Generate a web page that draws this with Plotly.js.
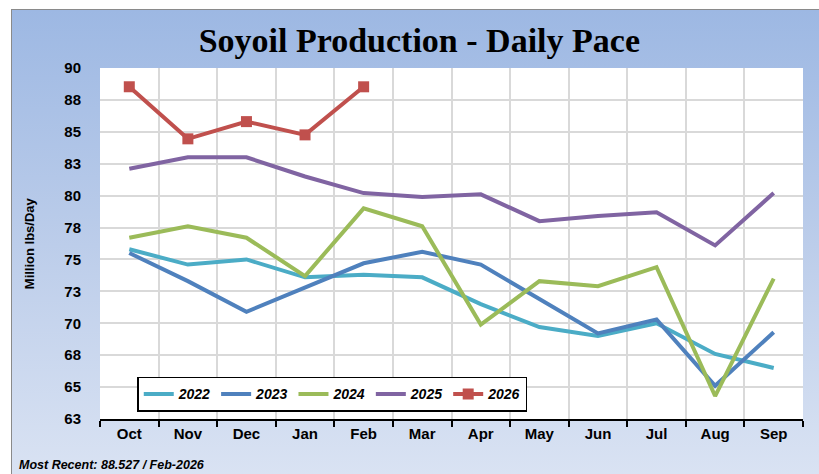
<!DOCTYPE html>
<html>
<head>
<meta charset="utf-8">
<script src="https://cdn.plot.ly/plotly-3.0.1.min.js"></script>
<style>
  html, body { margin: 0; padding: 0; background: #ffffff; }
  #wrap { position: relative; width: 819px; height: 474px; overflow: hidden; }
  #bg { position: absolute; left: 11px; top: 9px; width: 820px; height: 470px;
        border-left: 1px solid #8a8a8a; border-top: 1px solid #8a8a8a;
        background: linear-gradient(to bottom, #9db8e3 0%, #bccdea 50%, #dae3f3 100%); }
  #chart { position: absolute; left: 0; top: 0; width: 819px; height: 474px; }
</style>
</head>
<body>
<div id="wrap">
  <div id="bg"></div>
  <div id="chart"></div>
</div>
<script>
const months = ["Oct","Nov","Dec","Jan","Feb","Mar","Apr","May","Jun","Jul","Aug","Sep"];
const s2022 = [75.8, 74.6, 75.0, 73.6, 73.8, 73.6, 71.5, 69.7, 69.0, 70.0, 67.6, 66.5];
const s2023 = [75.5, 73.3, 70.9, 72.8, 74.7, 75.6, 74.6, 71.9, 69.2, 70.3, 65.1, 69.3];
const s2024 = [76.7, 77.6, 76.7, 73.7, 79.0, 77.6, 69.9, 73.3, 72.9, 74.4, 64.3, 73.5];
const s2025 = [82.1, 83.0, 83.0, 81.5, 80.2, 79.9, 80.1, 78.0, 78.4, 78.7, 76.1, 80.2];
const s2026 = [88.53, 84.45, 85.8, 84.76, 88.527];
const seriesNames = ["2022","2023","2024","2025","2026"];
const yTickVals = [62.5, 65, 67.5, 70, 72.5, 75, 77.5, 80, 82.5, 85, 87.5, 90];
const yTickText = ["63","65","68","70","73","75","78","80","83","85","88","90"];
const titleText = "Soyoil Production - Daily Pace";
const yTitleText = "Million lbs/Day";
const noteText = "Most Recent: 88.527 / Feb-2026";

const colors = ["#4bacc6", "#4f81bd", "#9bbb59", "#8064a2", "#c0504d"];
const allSeries = [s2022, s2023, s2024, s2025, s2026];
const sans = "Liberation Sans, Arial, sans-serif";

const traces = allSeries.map((vals, i) => {
  const t = {
    x: months.slice(0, vals.length),
    y: vals,
    name: seriesNames[i],
    type: "scatter",
    mode: i === 4 ? "lines+markers" : "lines",
    line: { color: colors[i], width: 4 },
    hoverinfo: "x+y+name"
  };
  if (i === 4) t.marker = { symbol: "square", size: 11, color: colors[i] };
  return t;
});

const layout = {
  width: 819, height: 474,
  margin: { l: 100, r: 16, t: 68, b: 55 },
  paper_bgcolor: "rgba(0,0,0,0)",
  plot_bgcolor: "#ffffff",
  showlegend: true,
  title: {
    text: "<b>" + titleText + "</b>",
    font: { family: "Liberation Serif, serif", size: 34, color: "#000000" },
    x: 0.512, xref: "container", xanchor: "center",
    y: 0.915, yref: "container", yanchor: "middle"
  },
  xaxis: {
    type: "category",
    categoryorder: "array", categoryarray: months,
    range: [-0.5, 11.5],
    tickson: "boundaries",
    ticks: "outside", ticklen: 6, tickwidth: 2, tickcolor: "#000000",
    showline: true, linecolor: "#000000", linewidth: 2,
    showgrid: true, gridcolor: "#d9d9d9", gridwidth: 1.5,
    tickfont: { family: sans, size: 15, color: "#000000", weight: "bold" },
    fixedrange: true
  },
  yaxis: {
    range: [62.5, 90],
    tickvals: yTickVals, ticktext: yTickText,
    showline: false, zeroline: false,
    showgrid: true, gridcolor: "#d9d9d9", gridwidth: 1.5,
    ticks: "", ticklabelstandoff: 18,
    tickfont: { family: sans, size: 15, color: "#000000", weight: "bold" },
    fixedrange: true
  },
  legend: {
    orientation: "h",
    x: 0.053, xanchor: "left",
    y: 0.12, yanchor: "top",
    bgcolor: "#ffffff", bordercolor: "#000000", borderwidth: 1.5,
    font: { family: sans, size: 14, color: "#000000", weight: "bold", style: "italic" },
    itemwidth: 30,
    tracegroupgap: 0
  },
  annotations: [
    {
      text: "<b>" + yTitleText + "</b>",
      xref: "paper", yref: "paper",
      x: -0.1, y: 0.5, xanchor: "center", yanchor: "middle",
      textangle: -90, showarrow: false,
      font: { family: sans, size: 13, color: "#000000" }
    },
    {
      text: "<b><i>" + noteText + "</i></b>",
      xref: "paper", yref: "paper",
      x: -0.118, y: -0.131, xanchor: "left", yanchor: "middle",
      showarrow: false,
      font: { family: sans, size: 12.5, color: "#000000" }
    }
  ]
};

Plotly.newPlot("chart", traces, layout, { displayModeBar: false });
</script>
</body>
</html>
